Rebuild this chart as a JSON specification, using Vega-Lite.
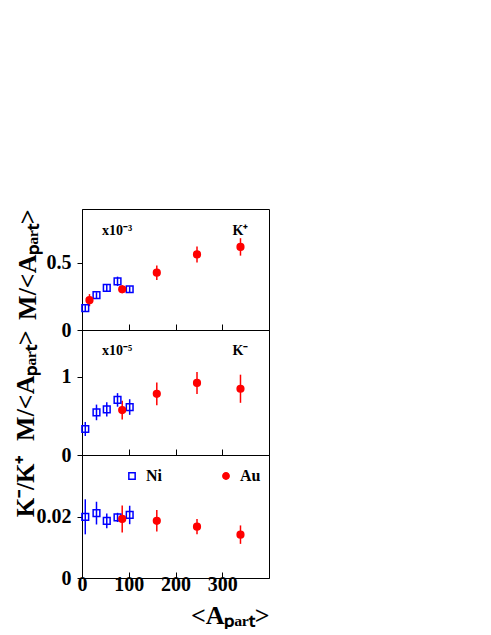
{
  "$schema": "https://vega.github.io/schema/vega-lite/v6.json",
  "background": "white",
  "padding": {"left": 11, "top": 208, "right": 5, "bottom": 0},
  "spacing": 0,
  "bounds": "flush",
  "config": {
    "view": {"stroke": "black", "strokeWidth": 1},
    "axis": {
      "labelFont": "Liberation Serif", "labelFontWeight": "bold", "labelFontSize": 20, "labelColor": "black",
      "titleFont": "Liberation Serif", "titleFontWeight": "bold", "titleFontSize": 26, "titleColor": "black",
      "domainColor": "black", "tickColor": "black", "grid": false, "labelFlush": false, "labelOverlap": false
    },
    "text": {"font": "Liberation Serif", "fontWeight": "bold", "fontSize": 14, "color": "black"}
  },
  "datasets": {
    "d": [
      {"p": "Kp", "s": "Ni", "A": 7, "v": 0.163, "lo": 0.141, "hi": 0.185},
      {"p": "Kp", "s": "Ni", "A": 31, "v": 0.259, "lo": 0.237, "hi": 0.281},
      {"p": "Kp", "s": "Ni", "A": 53, "v": 0.313, "lo": 0.291, "hi": 0.335},
      {"p": "Kp", "s": "Ni", "A": 76, "v": 0.362, "lo": 0.327, "hi": 0.397},
      {"p": "Kp", "s": "Ni", "A": 102, "v": 0.303, "lo": 0.281, "hi": 0.325},
      {"p": "Kp", "s": "Au", "A": 16, "v": 0.222, "lo": 0.177, "hi": 0.267},
      {"p": "Kp", "s": "Au", "A": 86, "v": 0.303, "lo": 0.273, "hi": 0.333},
      {"p": "Kp", "s": "Au", "A": 160, "v": 0.426, "lo": 0.372, "hi": 0.48},
      {"p": "Kp", "s": "Au", "A": 246, "v": 0.562, "lo": 0.502, "hi": 0.622},
      {"p": "Kp", "s": "Au", "A": 339, "v": 0.618, "lo": 0.553, "hi": 0.683},
      {"p": "Km", "s": "Ni", "A": 7, "v": 0.333, "lo": 0.243, "hi": 0.423},
      {"p": "Km", "s": "Ni", "A": 31, "v": 0.545, "lo": 0.445, "hi": 0.645},
      {"p": "Km", "s": "Ni", "A": 53, "v": 0.584, "lo": 0.494, "hi": 0.674},
      {"p": "Km", "s": "Ni", "A": 76, "v": 0.705, "lo": 0.618, "hi": 0.792},
      {"p": "Km", "s": "Ni", "A": 102, "v": 0.614, "lo": 0.514, "hi": 0.714},
      {"p": "Km", "s": "Au", "A": 86, "v": 0.575, "lo": 0.455, "hi": 0.695},
      {"p": "Km", "s": "Au", "A": 160, "v": 0.783, "lo": 0.638, "hi": 0.928},
      {"p": "Km", "s": "Au", "A": 246, "v": 0.922, "lo": 0.782, "hi": 1.062},
      {"p": "Km", "s": "Au", "A": 339, "v": 0.848, "lo": 0.668, "hi": 1.028},
      {"p": "R", "s": "Ni", "A": 7, "v": 0.0199, "lo": 0.0142, "hi": 0.0256},
      {"p": "R", "s": "Ni", "A": 31, "v": 0.0211, "lo": 0.0174, "hi": 0.0248},
      {"p": "R", "s": "Ni", "A": 53, "v": 0.0186, "lo": 0.0162, "hi": 0.021},
      {"p": "R", "s": "Ni", "A": 76, "v": 0.0197, "lo": 0.0182, "hi": 0.0212},
      {"p": "R", "s": "Ni", "A": 102, "v": 0.0205, "lo": 0.0175, "hi": 0.0235},
      {"p": "R", "s": "Au", "A": 86, "v": 0.0192, "lo": 0.0148, "hi": 0.0236},
      {"p": "R", "s": "Au", "A": 160, "v": 0.0186, "lo": 0.0151, "hi": 0.0221},
      {"p": "R", "s": "Au", "A": 246, "v": 0.0167, "lo": 0.0142, "hi": 0.0192},
      {"p": "R", "s": "Au", "A": 339, "v": 0.0141, "lo": 0.0111, "hi": 0.0171}
    ]
  },
  "vconcat": [
    {
      "width": 187, "height": 121,
      "layer": [
        {
          "data": {"name": "d"}, "transform": [{"filter": "datum.p === 'Kp'"}],
          "mark": {"type": "rule", "strokeWidth": 1.5},
          "encoding": {
            "x": {"field": "A", "type": "quantitative", "scale": {"domain": [0, 400]}, "axis": {"values": [0, 100, 200, 300], "labels": false, "title": null, "tickSize": -6}},
            "y": {"field": "lo", "type": "quantitative", "scale": {"domain": [0, 0.9]}, "axis": {"values": [0, 0.5], "format": ".1~f", "title": "M/<Aₚₐᵣₜ>", "titleAnchor": "end", "tickSize": 5, "labelPadding": 6, "titlePadding": 6}},
            "y2": {"field": "hi"},
            "color": {"field": "s", "type": "nominal", "scale": {"domain": ["Ni", "Au"], "range": ["#0000ff", "#ff0000"]}, "legend": null}
          }
        },
        {
          "data": {"name": "d"}, "transform": [{"filter": "datum.p === 'Kp'"}],
          "mark": {"type": "point", "strokeWidth": 1.5, "opacity": 1, "size": 45},
          "encoding": {
            "x": {"field": "A", "type": "quantitative", "scale": {"domain": [0, 400]}, "axis": {"values": [0, 100, 200, 300], "labels": false, "title": null, "tickSize": -6}},
            "y": {"field": "v", "type": "quantitative", "scale": {"domain": [0, 0.9]}, "axis": {"values": [0, 0.5], "format": ".1~f", "title": "M/<Aₚₐᵣₜ>", "titleAnchor": "end", "tickSize": 5, "labelPadding": 6, "titlePadding": 6}},
            "shape": {"field": "s", "type": "nominal", "scale": {"domain": ["Ni", "Au"], "range": ["square", "circle"]}, "legend": null},
            "stroke": {"field": "s", "type": "nominal", "scale": {"domain": ["Ni", "Au"], "range": ["#0000ff", "#ff0000"]}, "legend": null},
            "fill": {"field": "s", "type": "nominal", "scale": {"domain": ["Ni", "Au"], "range": ["transparent", "#ff0000"]}, "legend": null}
          }
        },
        {
          "data": {"values": [{}]},
          "mark": {"type": "text", "align": "left", "baseline": "alphabetic"},
          "encoding": {
            "x": {"datum": 43, "type": "quantitative"},
            "y": {"datum": 0.71, "type": "quantitative"},
            "text": {"value": "x10⁻³"}
          }
        },
        {
          "data": {"values": [{}]},
          "mark": {"type": "text", "align": "center", "baseline": "alphabetic"},
          "encoding": {
            "x": {"datum": 339, "type": "quantitative"},
            "y": {"datum": 0.71, "type": "quantitative"},
            "text": {"value": "K⁺"}
          }
        }
      ]
    },
    {
      "width": 187, "height": 125,
      "layer": [
        {
          "data": {"name": "d"}, "transform": [{"filter": "datum.p === 'Km'"}],
          "mark": {"type": "rule", "strokeWidth": 1.5},
          "encoding": {
            "x": {"field": "A", "type": "quantitative", "scale": {"domain": [0, 400]}, "axis": {"values": [0, 100, 200, 300], "labels": false, "title": null, "tickSize": -6}},
            "y": {"field": "lo", "type": "quantitative", "scale": {"domain": [0, 1.6]}, "axis": {"values": [0, 1], "format": "d", "title": "M/<Aₚₐᵣₜ>", "titleAnchor": "end", "tickSize": 5, "labelPadding": 6, "titlePadding": 23}},
            "y2": {"field": "hi"},
            "color": {"field": "s", "type": "nominal", "scale": {"domain": ["Ni", "Au"], "range": ["#0000ff", "#ff0000"]}, "legend": null}
          }
        },
        {
          "data": {"name": "d"}, "transform": [{"filter": "datum.p === 'Km'"}],
          "mark": {"type": "point", "strokeWidth": 1.5, "opacity": 1, "size": 45},
          "encoding": {
            "x": {"field": "A", "type": "quantitative", "scale": {"domain": [0, 400]}, "axis": {"values": [0, 100, 200, 300], "labels": false, "title": null, "tickSize": -6}},
            "y": {"field": "v", "type": "quantitative", "scale": {"domain": [0, 1.6]}, "axis": {"values": [0, 1], "format": "d", "title": "M/<Aₚₐᵣₜ>", "titleAnchor": "end", "tickSize": 5, "labelPadding": 6, "titlePadding": 23}},
            "shape": {"field": "s", "type": "nominal", "scale": {"domain": ["Ni", "Au"], "range": ["square", "circle"]}, "legend": null},
            "stroke": {"field": "s", "type": "nominal", "scale": {"domain": ["Ni", "Au"], "range": ["#0000ff", "#ff0000"]}, "legend": null},
            "fill": {"field": "s", "type": "nominal", "scale": {"domain": ["Ni", "Au"], "range": ["transparent", "#ff0000"]}, "legend": null}
          }
        },
        {
          "data": {"values": [{}]},
          "mark": {"type": "text", "align": "left", "baseline": "alphabetic"},
          "encoding": {
            "x": {"datum": 43, "type": "quantitative"},
            "y": {"datum": 1.28, "type": "quantitative"},
            "text": {"value": "x10⁻⁵"}
          }
        },
        {
          "data": {"values": [{}]},
          "mark": {"type": "text", "align": "center", "baseline": "alphabetic"},
          "encoding": {
            "x": {"datum": 339, "type": "quantitative"},
            "y": {"datum": 1.28, "type": "quantitative"},
            "text": {"value": "K⁻"}
          }
        }
      ]
    },
    {
      "width": 187, "height": 123,
      "layer": [
        {
          "data": {"name": "d"}, "transform": [{"filter": "datum.p === 'R'"}],
          "mark": {"type": "rule", "strokeWidth": 1.5},
          "encoding": {
            "x": {"field": "A", "type": "quantitative", "scale": {"domain": [0, 400]}, "axis": {"values": [0, 100, 200, 300], "format": "d", "title": "<Aₚₐᵣₜ>", "titleAnchor": "end", "titlePadding": 8, "tickSize": -6, "labelPadding": 2}},
            "y": {"field": "lo", "type": "quantitative", "scale": {"domain": [0, 0.04]}, "axis": {"values": [0, 0.02], "format": ".2~f", "title": "K⁻/K⁺", "titleFontSize": 25, "titleAnchor": "end", "tickSize": 5, "labelPadding": 6, "titlePadding": -2}},
            "y2": {"field": "hi"},
            "color": {"field": "s", "type": "nominal", "scale": {"domain": ["Ni", "Au"], "range": ["#0000ff", "#ff0000"]}, "legend": null}
          }
        },
        {
          "data": {"name": "d"}, "transform": [{"filter": "datum.p === 'R'"}],
          "mark": {"type": "point", "strokeWidth": 1.5, "opacity": 1, "size": 45},
          "encoding": {
            "x": {"field": "A", "type": "quantitative", "scale": {"domain": [0, 400]}, "axis": {"values": [0, 100, 200, 300], "format": "d", "title": "<Aₚₐᵣₜ>", "titleAnchor": "end", "titlePadding": 8, "tickSize": -6, "labelPadding": 2}},
            "y": {"field": "v", "type": "quantitative", "scale": {"domain": [0, 0.04]}, "axis": {"values": [0, 0.02], "format": ".2~f", "title": "K⁻/K⁺", "titleFontSize": 25, "titleAnchor": "end", "tickSize": 5, "labelPadding": 6, "titlePadding": -2}},
            "shape": {"field": "s", "type": "nominal", "scale": {"domain": ["Ni", "Au"], "range": ["square", "circle"]},
              "legend": {"orient": "none", "legendX": 42, "legendY": 13, "direction": "horizontal", "title": null, "labelFont": "Liberation Serif", "labelFontWeight": "bold", "labelFontSize": 16, "labelColor": "black", "symbolSize": 40, "symbolStrokeWidth": 1.5, "columnPadding": 56, "labelOffset": 6}},
            "stroke": {"field": "s", "type": "nominal", "scale": {"domain": ["Ni", "Au"], "range": ["#0000ff", "#ff0000"]},
              "legend": {"orient": "none", "legendX": 42, "legendY": 13, "direction": "horizontal", "title": null, "labelFont": "Liberation Serif", "labelFontWeight": "bold", "labelFontSize": 16, "labelColor": "black", "symbolSize": 40, "symbolStrokeWidth": 1.5, "columnPadding": 56, "labelOffset": 6}},
            "fill": {"field": "s", "type": "nominal", "scale": {"domain": ["Ni", "Au"], "range": ["transparent", "#ff0000"]},
              "legend": {"orient": "none", "legendX": 42, "legendY": 13, "direction": "horizontal", "title": null, "labelFont": "Liberation Serif", "labelFontWeight": "bold", "labelFontSize": 16, "labelColor": "black", "symbolSize": 40, "symbolStrokeWidth": 1.5, "columnPadding": 56, "labelOffset": 6}}
          }
        }
      ]
    }
  ],
  "resolve": {
    "scale": {"shape": "independent", "stroke": "independent", "fill": "independent"},
    "legend": {"shape": "independent", "stroke": "independent", "fill": "independent"}
  }
}
